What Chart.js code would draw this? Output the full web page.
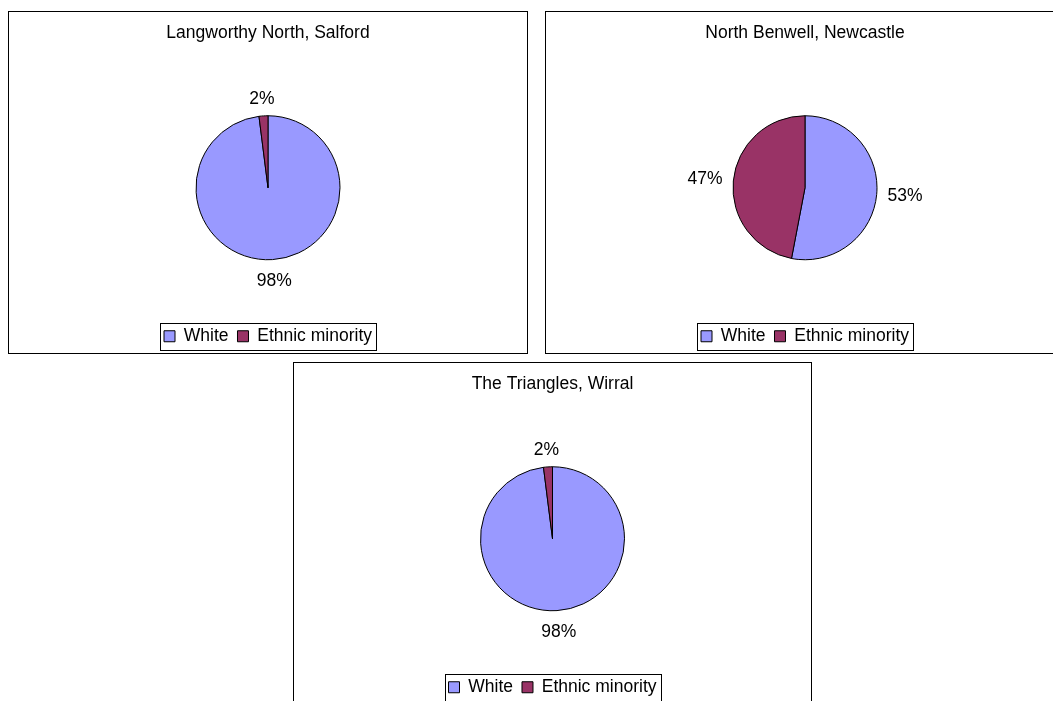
<!DOCTYPE html>
<html>
<head>
<meta charset="utf-8">
<script src="https://cdn.jsdelivr.net/npm/chart.js@4.4.0/dist/chart.umd.min.js"></script>
<style>
  html, body { margin: 0; padding: 0; background: #fff; }
  body { width: 1053px; height: 701px; overflow: hidden; position: relative; }
  .panel { position: absolute; border: 1px solid #000; box-sizing: border-box; background: #fff; }
  .panel .inner { position: relative; width: 100%; height: 100%; }
</style>
</head>
<body>
<div class="panel" style="left:8px;top:11px;width:520px;height:343px"><div class="inner"><canvas id="salford"></canvas></div></div>
<div class="panel" style="left:545px;top:11px;width:520px;height:343px"><div class="inner"><canvas id="newcastle"></canvas></div></div>
<div class="panel" style="left:293px;top:362px;width:519px;height:343px"><div class="inner"><canvas id="wirral"></canvas></div></div>
<script>
// data
const categories = ["White", "Ethnic minority"];
const areaNames = ["Langworthy North, Salford", "North Benwell, Newcastle", "The Triangles, Wirral"];
const salfordValues = [98, 2];
const newcastleValues = [53, 47];
const wirralValues = [98, 2];
const sliceColours = ["#9999FF", "#993366"];

const FONT_SIZE = 17.5;
Chart.defaults.font.family = "'Liberation Sans', Arial, sans-serif";
Chart.defaults.color = "#000";

// percentage labels outside the slices, like the Excel original
const outsideLabels = {
  id: "outsideLabels",
  afterDatasetsDraw(chart) {
    const ctx = chart.ctx;
    const meta = chart.getDatasetMeta(0);
    const values = chart.data.datasets[0].data;
    const total = values.reduce((a, b) => a + b, 0);
    ctx.save();
    ctx.font = FONT_SIZE + "px 'Liberation Sans', Arial, sans-serif";
    ctx.fillStyle = "#000";
    ctx.textAlign = "center";
    ctx.textBaseline = "middle";
    meta.data.forEach((arc, i) => {
      const p = arc.getProps(["x", "y", "startAngle", "endAngle", "outerRadius"], true);
      const mid = (p.startAngle + p.endAngle) / 2;
      const dx = Math.cos(mid), dy = Math.sin(mid);
      const text = Math.round(values[i] / total * 100) + "%";
      const halfW = ctx.measureText(text).width / 2;
      const d = p.outerRadius + 11;
      // a bit more room below the pie, as Excel does
      const extra = dy > 0 ? 5 : 0;
      ctx.fillText(text, p.x + dx * (d + halfW), p.y + dy * (d + 6 + extra));
    });
    ctx.restore();
  }
};

// thin box round the legend
const legendFrame = {
  id: "legendFrame",
  afterDraw(chart) {
    const boxes = chart.legend && chart.legend.legendHitBoxes;
    if (!boxes || !boxes.length) return;
    const left = Math.min(...boxes.map(b => b.left)) - 4;
    const right = Math.max(...boxes.map(b => b.left + b.width)) + 4;
    const mid = boxes[0].top + boxes[0].height / 2;
    const ctx = chart.ctx;
    ctx.save();
    ctx.strokeStyle = "#000";
    ctx.lineWidth = 1;
    ctx.strokeRect(Math.round(left) + 0.5, Math.round(mid - 13.5) + 0.5, Math.round(right - left), 27);
    ctx.restore();
  }
};

function makePie(id, title, values) {
  return new Chart(document.getElementById(id), {
    type: "pie",
    data: {
      labels: categories,
      datasets: [{
        data: values,
        backgroundColor: sliceColours,
        borderColor: "#000",
        borderWidth: 1,
        radius: 72
      }]
    },
    options: {
      responsive: true,
      maintainAspectRatio: false,
      animation: false,
      layout: { padding: { bottom: -2 } },
      plugins: {
        title: {
          display: true,
          text: title,
          color: "#000",
          font: { size: FONT_SIZE, weight: "normal" },
          padding: { top: 11, bottom: 13 }
        },
        legend: {
          position: "bottom",
          labels: {
            boxWidth: 11,
            boxHeight: 11,
            padding: 9,
            color: "#000",
            font: { size: FONT_SIZE }
          }
        },
        tooltip: { enabled: false }
      }
    },
    plugins: [outsideLabels, legendFrame]
  });
}

makePie("salford", areaNames[0], salfordValues);
makePie("newcastle", areaNames[1], newcastleValues);
makePie("wirral", areaNames[2], wirralValues);
</script>
</body>
</html>
